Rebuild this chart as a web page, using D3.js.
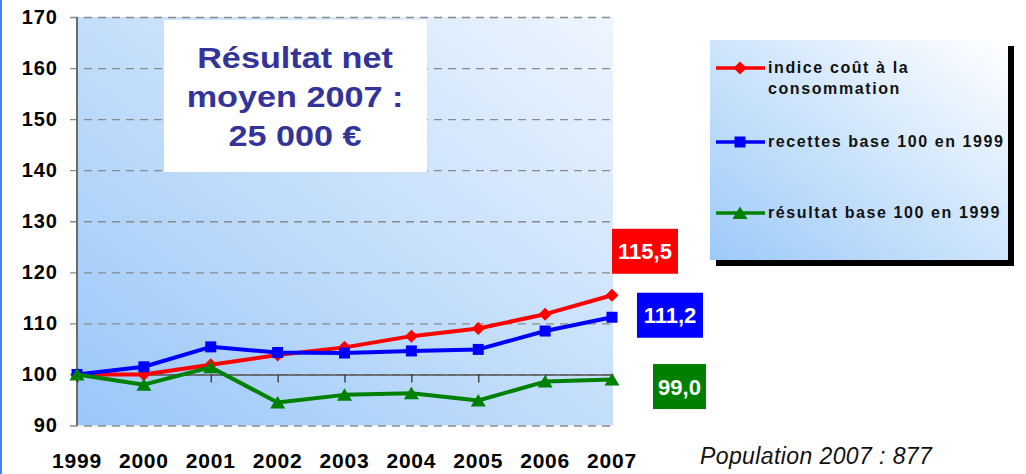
<!DOCTYPE html>
<html>
<head>
<meta charset="utf-8">
<script src="https://cdn.jsdelivr.net/npm/d3@7"></script>
<style>
  body { margin: 0; background: #fff; }
  svg { display: block; font-family: "Liberation Sans", Arial, sans-serif; }
</style>
</head>
<body>
<div id="chartContainer"></div>
<script>
const years = ["1999", "2000", "2001", "2002", "2003", "2004", "2005", "2006", "2007"];
const indiceCout = [100, 100, 101.9, 103.8, 105.3, 107.5, 109.0, 111.8, 115.5];
const recettes = [100, 101.5, 105.4, 104.3, 104.2, 104.6, 104.9, 108.5, 111.2];
const resultat = [100, 98.0, 101.4, 94.5, 96.0, 96.3, 94.9, 98.6, 99.0];
const yTicks = [90, 100, 110, 120, 130, 140, 150, 160, 170];
const seriesNames = [["indice coût à la", "consommation"], ["recettes base 100 en 1999"], ["résultat base 100 en 1999"]];
const endLabels = ["115,5", "111,2", "99,0"];
const titleLines = ["Résultat net", "moyen 2007 :", "25 000 €"];
const footnote = "Population 2007 : 877";

const W = 1026, H = 474;
const svg = d3.select("#chartContainer").append("svg")
    .attr("width", W)
    .attr("height", H);

const defs = svg.append("defs");
function addGradient(id, from, to) {
    const g = defs.append("linearGradient").attr("id", id)
        .attr("x1", 0).attr("y1", 1).attr("x2", 1).attr("y2", 0);
    g.append("stop").attr("offset", "0%").attr("stop-color", from);
    g.append("stop").attr("offset", "100%").attr("stop-color", to);
}
addGradient("plotBg", "#99c7f8", "#eef5fe");
addGradient("legendBg", "#9ccaf8", "#ffffff");

// left border
svg.append("rect").attr("x", 0).attr("y", 0).attr("width", 2).attr("height", H).attr("fill", "#4b7ef0");

const x = d3.scalePoint().domain(years).range([77, 612]);
const y = d3.scaleLinear().domain([90, 170]).range([425.5, 17]);

// plot background
svg.append("rect")
    .attr("x", x(years[0])).attr("y", y(170))
    .attr("width", x(years[years.length - 1]) + 1 - x(years[0]))
    .attr("height", y(90) - y(170))
    .attr("fill", "url(#plotBg)");

// y axis with dashed grid
const yAxis = svg.append("g")
    .attr("transform", "translate(70,0)")
    .call(d3.axisLeft(y).tickValues(yTicks).tickSize(-(x(years[years.length - 1]) + 1 - 70)).tickPadding(12));
yAxis.select(".domain").remove();
yAxis.selectAll(".tick line")
    .attr("stroke", "#8a8a8a")
    .attr("stroke-width", 1.3)
    .attr("stroke-dasharray", "8,6");
yAxis.selectAll(".tick text")
    .attr("fill", "#000")
    .style("font-size", "20px")
    .style("font-weight", "bold")
    .style("letter-spacing", "1px");

// vertical axis line
svg.append("line")
    .attr("x1", x(years[0])).attr("x2", x(years[0]))
    .attr("y1", y(170)).attr("y2", y(90))
    .attr("stroke", "#6b6b6b").attr("stroke-width", 2);

// horizontal base line at 100 with ticks
const xAxis = svg.append("g")
    .attr("transform", `translate(0,${y(100)})`)
    .call(d3.axisBottom(x).tickSize(8).tickFormat(""));
xAxis.select(".domain").attr("stroke", "#555").attr("stroke-width", 1.5);
xAxis.selectAll(".tick line").attr("stroke", "#333").attr("stroke-width", 1.3);

// x labels
svg.append("g").selectAll("text")
    .data(years)
    .join("text")
    .attr("x", d => x(d))
    .attr("y", 468)
    .attr("text-anchor", "middle")
    .style("font-size", "21px")
    .style("font-weight", "bold")
    .style("letter-spacing", "0.8px")
    .text(d => d);

// title box
svg.append("rect").attr("x", 164).attr("y", 20).attr("width", 263).attr("height", 152).attr("fill", "#fff");
svg.append("g").selectAll("text")
    .data(titleLines)
    .join("text")
    .attr("transform", (d, i) => `translate(295,${68 + i * 39}) scale(1.14,1)`)
    .attr("text-anchor", "middle")
    .attr("fill", "#333399")
    .style("font-size", "30px")
    .style("font-weight", "bold")
    .text(d => d);

// markers
const markers = {
    diamond: "M0,-6.5L6.5,0L0,6.5L-6.5,0Z",
    square: "M-5.5,-5.5H5.5V5.5H-5.5Z",
    triangle: "M0,-6.5L7.5,6L-7.5,6Z"
};

const series = [
    { values: indiceCout, color: "#ff0000", marker: markers.diamond, labelDy: -44, labelX: 612, labelW: 66 },
    { values: recettes, color: "#0000ff", marker: markers.square, labelDy: -2, labelX: 637, labelW: 66 },
    { values: resultat, color: "#008000", marker: markers.triangle, labelDy: 7, labelX: 653, labelW: 53 }
];

const line = d3.line()
    .x((d, i) => x(years[i]))
    .y(d => y(d));

series.forEach(s => {
    svg.append("path")
        .datum(s.values)
        .attr("d", line)
        .attr("fill", "none")
        .attr("stroke", s.color)
        .attr("stroke-width", 4)
        .attr("stroke-linejoin", "round");
    svg.append("g").selectAll("path")
        .data(s.values)
        .join("path")
        .attr("d", s.marker)
        .attr("transform", (d, i) => `translate(${x(years[i])},${y(d)})`)
        .attr("fill", s.color);
});

// end value boxes
series.forEach((s, i) => {
    const last = s.values[s.values.length - 1];
    const cy = y(last) + s.labelDy;
    svg.append("rect")
        .attr("x", s.labelX).attr("y", cy - 22.5)
        .attr("width", s.labelW).attr("height", 45)
        .attr("fill", s.color);
    svg.append("text")
        .attr("x", s.labelX + s.labelW / 2)
        .attr("y", cy + 8)
        .attr("text-anchor", "middle")
        .attr("fill", "#fff")
        .style("font-size", "22px")
        .style("font-weight", "bold")
        .text(endLabels[i]);
});

// legend
const legend = svg.append("g");
legend.append("rect").attr("x", 716).attr("y", 46).attr("width", 298).attr("height", 220).attr("fill", "#000");
legend.append("rect").attr("x", 710).attr("y", 40).attr("width", 298).attr("height", 220).attr("fill", "url(#legendBg)");
const legendRowY = [68, 142, 213];
series.forEach((s, i) => {
    const ly = legendRowY[i];
    legend.append("line")
        .attr("x1", 716).attr("x2", 765)
        .attr("y1", ly).attr("y2", ly)
        .attr("stroke", s.color).attr("stroke-width", 3.5);
    legend.append("path")
        .attr("d", s.marker)
        .attr("transform", `translate(740,${ly})`)
        .attr("fill", s.color);
    seriesNames[i].forEach((t, j) => {
        legend.append("text")
            .attr("x", 768)
            .attr("y", ly + 5 + j * 21)
            .attr("fill", "#111")
            .style("font-size", "16px")
            .style("font-weight", "bold")
            .style("letter-spacing", "1.6px")
            .text(t);
    });
});

// footnote
svg.append("text")
    .attr("x", 700).attr("y", 464)
    .style("font-size", "23px")
    .style("font-style", "italic")
    .style("letter-spacing", "0.4px")
    .attr("fill", "#111")
    .text(footnote);
</script>
</body>
</html>
